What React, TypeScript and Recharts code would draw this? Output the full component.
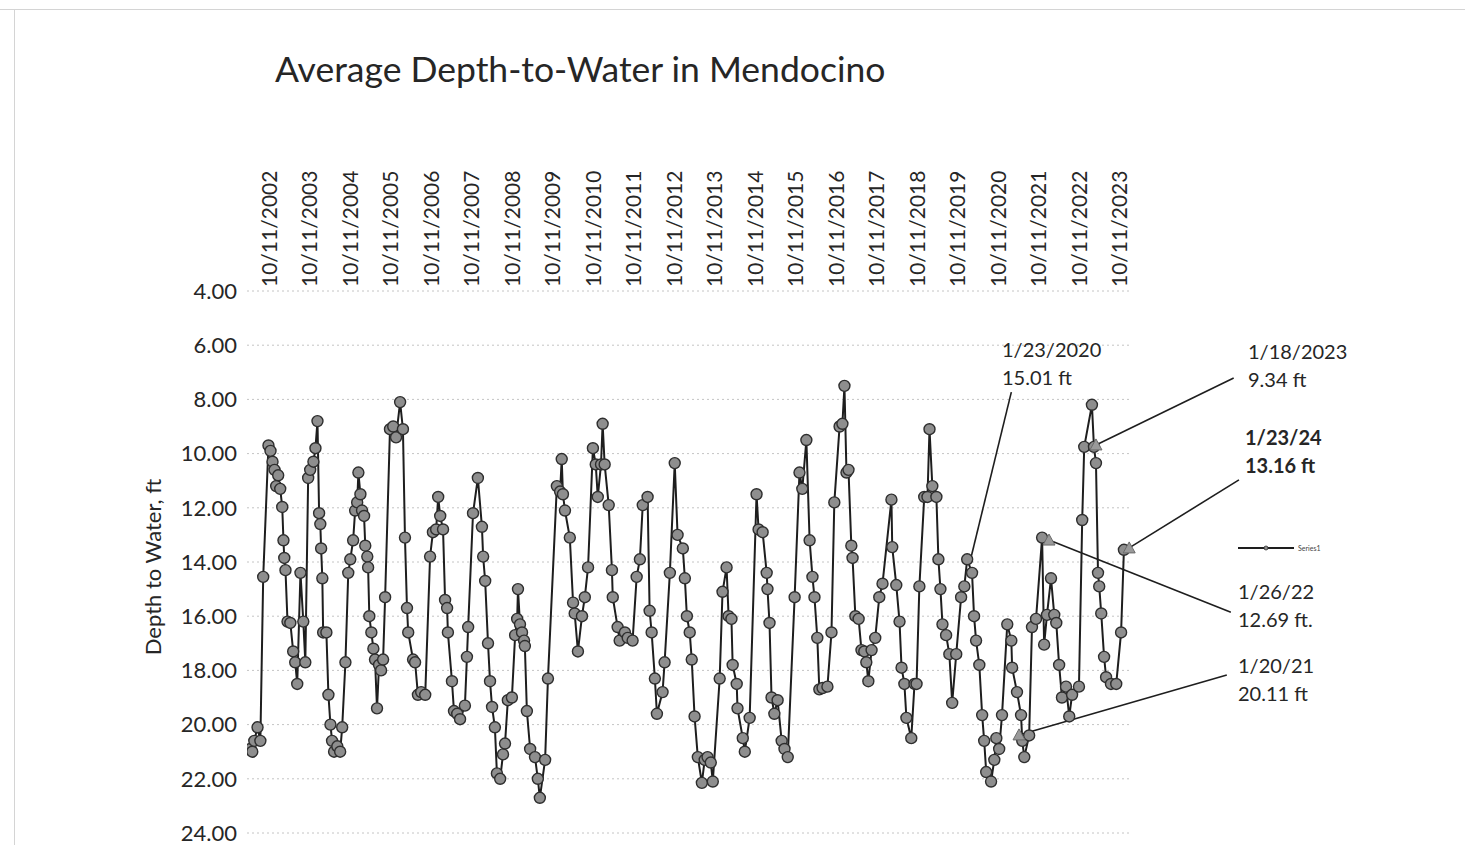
import React from 'react';
import { LineChart, Line, XAxis, YAxis, CartesianGrid, ReferenceLine, ReferenceDot } from 'recharts';

// decimal year of each reading
const years = [
  2002.53, 2002.58, 2002.63, 2002.71, 2002.78, 2002.85, 2002.98,
  2003.03, 2003.08, 2003.13, 2003.17, 2003.22, 2003.27, 2003.32, 2003.35, 2003.37, 2003.4, 2003.45, 2003.52, 2003.59, 2003.64, 2003.69, 2003.77, 2003.84, 2003.89, 2003.96,
  2004.01, 2004.09, 2004.14, 2004.19, 2004.23, 2004.26, 2004.28, 2004.31, 2004.33, 2004.41, 2004.46, 2004.51, 2004.55, 2004.6, 2004.68, 2004.75, 2004.8, 2004.88, 2004.95,
  2005.0, 2005.07, 2005.12, 2005.17, 2005.2, 2005.25, 2005.29, 2005.34, 2005.37, 2005.42, 2005.44, 2005.47, 2005.52, 2005.57, 2005.61, 2005.66, 2005.71, 2005.76, 2005.81, 2005.86, 2005.98,
  2006.06, 2006.13, 2006.23, 2006.3, 2006.35, 2006.4, 2006.43, 2006.55, 2006.6, 2006.67, 2006.75, 2006.85, 2006.97,
  2007.04, 2007.12, 2007.17, 2007.22, 2007.29, 2007.34, 2007.39, 2007.41, 2007.51, 2007.56, 2007.64, 2007.71, 2007.83, 2007.88, 2007.91,
  2008.03, 2008.15, 2008.25, 2008.28, 2008.33, 2008.4, 2008.45, 2008.5, 2008.57, 2008.62, 2008.7, 2008.77, 2008.82, 2008.89, 2008.99,
  2009.07, 2009.12, 2009.14, 2009.19, 2009.24, 2009.29, 2009.31, 2009.36, 2009.44, 2009.56, 2009.63, 2009.68, 2009.81, 2009.88,
  2010.1, 2010.18, 2010.22, 2010.25, 2010.3, 2010.42, 2010.5, 2010.54, 2010.62, 2010.72, 2010.79, 2010.87, 2010.99,
  2011.06, 2011.11, 2011.19, 2011.23, 2011.28, 2011.38, 2011.46, 2011.48, 2011.6, 2011.65, 2011.78, 2011.85, 2011.97,
  2012.07, 2012.15, 2012.22, 2012.34, 2012.39, 2012.44, 2012.52, 2012.57, 2012.71, 2012.76, 2012.89,
  2013.01, 2013.08, 2013.21, 2013.26, 2013.31, 2013.38, 2013.43, 2013.5, 2013.58, 2013.68, 2013.75, 2013.82, 2013.9, 2013.95,
  2014.12, 2014.19, 2014.29, 2014.34, 2014.41, 2014.44, 2014.54, 2014.56, 2014.69, 2014.74, 2014.86,
  2015.03, 2015.08, 2015.18, 2015.28, 2015.3, 2015.35, 2015.4, 2015.47, 2015.55, 2015.65, 2015.72, 2015.8, 2015.97,
  2016.09, 2016.16, 2016.26, 2016.34, 2016.41, 2016.46, 2016.53, 2016.58, 2016.66, 2016.78, 2016.88, 2016.95,
  2017.08, 2017.15, 2017.2, 2017.25, 2017.3, 2017.37, 2017.4, 2017.47, 2017.55, 2017.62, 2017.69, 2017.74, 2017.79, 2017.87, 2017.96,
  2018.06, 2018.14, 2018.36, 2018.38, 2018.48, 2018.56, 2018.61, 2018.68, 2018.73, 2018.85, 2018.93, 2018.98,
  2019.05, 2019.17, 2019.25, 2019.3, 2019.37, 2019.47, 2019.52, 2019.57, 2019.62, 2019.71, 2019.79, 2019.86, 2019.96,
  2020.08, 2020.16, 2020.23, 2020.35, 2020.4, 2020.45, 2020.53, 2020.6, 2020.65, 2020.7, 2020.82, 2020.9, 2020.95,
  2021.02, 2021.09, 2021.22, 2021.32, 2021.34, 2021.46, 2021.56, 2021.59, 2021.64, 2021.76, 2021.83, 2021.93,
  2022.08, 2022.13, 2022.2, 2022.3, 2022.38, 2022.43, 2022.5, 2022.57, 2022.67, 2022.75, 2022.82, 2022.99,
  2023.07, 2023.12, 2023.31, 2023.36, 2023.41, 2023.46, 2023.49, 2023.54, 2023.61, 2023.66, 2023.78, 2023.91,
  2024.03, 2024.1,
];

// depth to water, ft
const depth = [
  20.9, 21.0, 20.6, 20.1, 20.6, 14.55, 9.7,
  9.9, 10.3, 10.6, 11.2, 10.8, 11.3, 11.97, 13.2, 13.85, 14.3, 16.2, 16.25, 17.3, 17.7, 18.5, 14.4, 16.2, 17.7, 10.9,
  10.6, 10.3, 9.8, 8.8, 12.2, 12.6, 13.5, 14.6, 16.6, 16.6, 18.9, 20.0, 20.6, 21.0, 20.8, 21.0, 20.1, 17.7, 14.4,
  13.9, 13.2, 12.1, 11.8, 10.7, 11.5, 12.1, 12.3, 13.4, 13.8, 14.2, 16.0, 16.6, 17.2, 17.6, 19.4, 17.8, 18.0, 17.6, 15.3, 9.1,
  9.0, 9.4, 8.1, 9.1, 13.1, 15.7, 16.6, 17.6, 17.7, 18.9, 18.8, 18.9, 13.8,
  12.9, 12.8, 11.6, 12.3, 12.8, 15.4, 15.7, 16.6, 18.4, 19.5, 19.6, 19.8, 19.3, 17.5, 16.4,
  12.2, 10.9, 12.7, 13.8, 14.7, 17.0, 18.4, 19.35, 20.1, 21.8, 22.0, 21.1, 20.7, 19.1, 19.0,
  16.7, 16.1, 15.0, 16.3, 16.6, 16.9, 17.1, 19.5, 20.9, 21.2, 22.0, 22.7, 21.3, 18.3,
  11.2, 11.4, 10.2, 11.5, 12.1, 13.1, 15.5, 15.9, 17.3, 16.0, 15.3, 14.2, 9.8,
  10.4, 11.6, 10.4, 8.9, 10.4, 11.9, 14.3, 15.3, 16.4, 16.9, 16.6, 16.8, 16.9,
  14.55, 13.9, 11.9, 11.6, 15.8, 16.6, 18.3, 19.6, 18.8, 17.7, 14.4,
  10.35, 13.0, 13.5, 14.6, 16.0, 16.6, 17.6, 19.7, 21.2, 22.15, 21.3, 21.2, 21.4, 22.1,
  18.3, 15.1, 14.2, 16.0, 16.1, 17.8, 18.5, 19.4, 20.5, 21.0, 19.75,
  11.5, 12.8, 12.9, 14.4, 15.0, 16.25, 19.0, 19.6, 19.1, 20.6, 20.9, 21.2, 15.3,
  10.7, 11.3, 9.5, 13.2, 14.55, 15.3, 16.8, 18.7, 18.65, 18.6, 16.6, 11.8,
  9.0, 8.9, 7.5, 10.7, 10.6, 13.4, 13.85, 16.0, 16.1, 17.25, 17.3, 17.7, 18.4, 17.25, 16.8,
  15.3, 14.8, 11.7, 13.45, 14.85, 16.2, 17.9, 18.5, 19.75, 20.5, 18.5, 18.5,
  14.9, 11.6, 11.6, 9.1, 11.2, 11.6, 13.9, 15.0, 16.3, 16.7, 17.4, 19.2, 17.4,
  15.3, 14.9, 13.9, 14.4, 16.0, 16.9, 17.8, 19.65, 20.6, 21.75, 22.1, 21.3, 20.5,
  20.9, 19.65, 16.3, 16.9, 17.9, 18.8, 19.65, 20.6, 21.2, 20.4, 16.4, 16.1,
  13.1, 17.05, 15.95, 14.6, 15.95, 16.25, 17.8, 19.0, 18.6, 19.7, 18.9, 18.6,
  12.45, 9.75, 8.2, 9.75, 10.35, 14.4, 14.9, 15.9, 17.5, 18.25, 18.5, 18.5,
  16.6, 13.55,
];

const tickLabels = [
  '10/11/2002', '10/11/2003', '10/11/2004', '10/11/2005', '10/11/2006', '10/11/2007',
  '10/11/2008', '10/11/2009', '10/11/2010', '10/11/2011', '10/11/2012', '10/11/2013',
  '10/11/2014', '10/11/2015', '10/11/2016', '10/11/2017', '10/11/2018', '10/11/2019',
  '10/11/2020', '10/11/2021', '10/11/2022', '10/11/2023',
];
const depthTicks = [4, 6, 8, 10, 12, 14, 16, 18, 20, 22, 24];

const calloutDates = ['1/23/2020', '1/18/2023', '1/23/24', '1/26/22', '1/20/21'];
const calloutDepths = ['15.01 ft', '9.34 ft', '13.16 ft', '12.69 ft.', '20.11 ft'];

// Oct 11 is day 284 of the year
const tickYears = tickLabels.map((l) => Number(l.slice(-4)) + 283 / 365);
const data = years.map((t, i) => ({ t, depth: depth[i] }));

// label boxes (page px) and leader lines (chart units)
const calloutLayout = [
  { left: 1002, top: 335, bold: false, from: { x: 2021.32, y: 7.73 }, to: { x: 2020.28, y: 14.11 }, arrow: false },
  { left: 1248, top: 337, bold: false, from: { x: 2026.81, y: 7.21 }, to: { x: 2023.41, y: 9.68 }, arrow: true },
  { left: 1245, top: 423, bold: true, from: { x: 2026.94, y: 10.97 }, to: { x: 2024.23, y: 13.48 }, arrow: true },
  { left: 1238, top: 577, bold: false, from: { x: 2026.74, y: 15.85 }, to: { x: 2022.25, y: 13.19 }, arrow: true },
  { left: 1238, top: 651, bold: false, from: { x: 2026.64, y: 18.17 }, to: { x: 2021.51, y: 20.38 }, arrow: true },
];

const INK = '#262626';
const FONT = 'Lato, "Open Sans", sans-serif';

const DateTick = (props: any) => {
  const { x, y, payload } = props;
  let idx = 0;
  tickYears.forEach((v, i) => {
    if (Math.abs(v - payload.value) < Math.abs(tickYears[idx] - payload.value)) idx = i;
  });
  return (
    <text
      transform={`translate(${x + 9},${y - 2}) rotate(-90)`}
      textAnchor="start"
      dy="0.35em"
      fontSize={21}
      fill={INK}
      fontFamily={FONT}
    >
      {tickLabels[idx]}
    </text>
  );
};

const Triangle = (props: any) => {
  const { cx, cy } = props;
  if (cx == null || cy == null) return null;
  return <path d={`M${cx - 6},${cy + 5} L${cx + 6},${cy + 5} L${cx},${cy - 6} Z`} fill="#9a9a9a" stroke="#6a6a6a" strokeWidth={1} />;
};

export default function App() {
  return (
    <div
      style={{
        position: 'fixed',
        left: 0,
        top: 0,
        width: 1465,
        height: 845,
        background: '#ffffff',
        fontFamily: FONT,
        color: INK,
        overflow: 'hidden',
      }}
    >
      {/* scanned page edges */}
      <div style={{ position: 'absolute', left: 0, top: 9, width: 1465, borderTop: '1px solid #d4d4d4' }} />
      <div style={{ position: 'absolute', left: 14, top: 10, height: 835, borderLeft: '1px solid #d4d4d4' }} />

      <div style={{ position: 'absolute', left: 275, top: 48, fontSize: 35.5, lineHeight: '42px', whiteSpace: 'nowrap' }}>
        Average Depth-to-Water in Mendocino
      </div>

      <div
        style={{
          position: 'absolute',
          left: 152,
          top: 567,
          transform: 'translate(-50%, -50%) rotate(-90deg)',
          fontSize: 22,
          whiteSpace: 'nowrap',
        }}
      >
        Depth to Water, ft
      </div>

      <LineChart width={1465} height={845} data={data} margin={{ top: 161, right: 335, bottom: 12, left: 167 }}>
        <CartesianGrid vertical={false} stroke="#c4c4c4" strokeDasharray="2 3" />
        <XAxis
          dataKey="t"
          type="number"
          orientation="top"
          domain={[2002.45, 2024.25]}
          ticks={tickYears}
          tick={<DateTick />}
          height={130}
          axisLine={false}
          tickLine={false}
          tickSize={0}
          tickMargin={2}
          allowDataOverflow
          interval={0}
        />
        <YAxis
          type="number"
          reversed
          domain={[4, 24]}
          ticks={depthTicks}
          tickFormatter={(v: number) => v.toFixed(2)}
          tick={{ fontSize: 22, fill: INK, fontFamily: FONT }}
          width={80}
          axisLine={false}
          tickLine={false}
          tickSize={0}
          tickMargin={10}
          interval={0}
        />
        <Line
          type="linear"
          dataKey="depth"
          stroke="#1e1e1e"
          strokeWidth={2}
          dot={{ r: 5.5, fill: '#8e8e8e', stroke: '#2e2e2e', strokeWidth: 1.4 }}
          isAnimationActive={false}
        />
        {calloutLayout.map((c, i) => (
          <ReferenceLine
            key={`l${i}`}
            segment={[c.from, c.to]}
            stroke="#1e1e1e"
            strokeWidth={1.6}
            ifOverflow="visible"
          />
        ))}
        {calloutLayout
          .filter((c) => c.arrow)
          .map((c, i) => (
            <ReferenceDot key={`d${i}`} x={c.to.x} y={c.to.y} r={6} ifOverflow="visible" shape={<Triangle />} />
          ))}
      </LineChart>

      {calloutLayout.map((c, i) => (
        <div
          key={`t${i}`}
          style={{
            position: 'absolute',
            left: c.left,
            top: c.top,
            fontSize: 20,
            lineHeight: '28px',
            fontWeight: c.bold ? 700 : 400,
            whiteSpace: 'nowrap',
          }}
        >
          <div>{calloutDates[i]}</div>
          <div>{calloutDepths[i]}</div>
        </div>
      ))}

      {/* legend */}
      <div style={{ position: 'absolute', left: 1238, top: 543, display: 'flex', alignItems: 'center' }}>
        <svg width={58} height={10}>
          <line x1={0} y1={5} x2={56} y2={5} stroke="#1e1e1e" strokeWidth={2} />
          <circle cx={28} cy={5} r={2} fill="#8e8e8e" stroke="#2e2e2e" strokeWidth={0.8} />
        </svg>
        <span style={{ fontSize: 7, marginLeft: 2, color: '#444' }}>Series1</span>
      </div>
    </div>
  );
}
